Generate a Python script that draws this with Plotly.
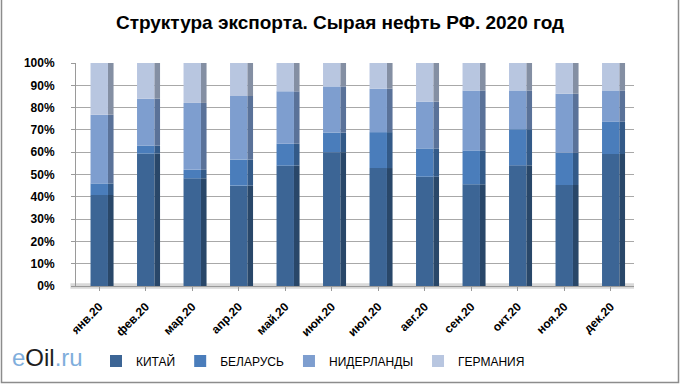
import plotly.graph_objects as go

months = ["янв.20", "фев.20", "мар.20", "апр.20", "май.20", "июн.20",
          "июл.20", "авг.20", "сен.20", "окт.20", "ноя.20", "дек.20"]
# shares of crude oil exports (fractions)
china = [0.408, 0.594, 0.483, 0.450, 0.540, 0.600, 0.529, 0.490, 0.456, 0.541, 0.453, 0.592]
belarus = [0.052, 0.036, 0.038, 0.117, 0.098, 0.088, 0.161, 0.127, 0.152, 0.162, 0.144, 0.146]
netherlands = [0.308, 0.210, 0.300, 0.285, 0.235, 0.207, 0.195, 0.210, 0.269, 0.174, 0.265, 0.139]
germany = [round(1 - a - b - c, 3) for a, b, c in zip(china, belarus, netherlands)]

series = [
    ("КИТАЙ", china, "#3C6595", "#294769"),
    ("БЕЛАРУСЬ", belarus, "#4A7DBB", "#335A88"),
    ("НИДЕРЛАНДЫ", netherlands, "#7E9ECF", "#5A7299"),
    ("ГЕРМАНИЯ", germany, "#B8C6E0", "#848FA3"),
]

fig = go.Figure()
base = [0.0] * len(months)
for name, vals, front, side in series:
    fig.add_trace(go.Bar(
        x=months, y=vals, base=list(base), name=name,
        marker=dict(color=front, line=dict(width=0)),
        width=0.375, offset=-0.1875, legendgroup=name,
    ))
    fig.add_trace(go.Bar(
        x=months, y=vals, base=list(base), name=name, showlegend=False,
        marker=dict(color=side, line=dict(width=0)),
        width=0.12, offset=0.1875, legendgroup=name, hoverinfo="skip",
    ))
    base = [b + v for b, v in zip(base, vals)]

L, R, T, B = 76, 46, 63, 98
W, H = 680, 384
pw, ph = W - L - R, H - T - B

fig.update_layout(
    width=W, height=H,
    margin=dict(l=L, r=R, t=T, b=B, autoexpand=False),
    paper_bgcolor="white", plot_bgcolor="white",
    barmode="overlay",
    font=dict(family="Liberation Sans, Arial, sans-serif", color="black"),
    title=dict(text="<b>Структура экспорта. Сырая нефть РФ. 2020 год</b>",
               x=0.5, xref="container", xanchor="center",
               y=1 - 22 / H, yref="container", yanchor="middle",
               font=dict(size=19, color="black")),
    xaxis=dict(tickangle=-45, tickfont=dict(size=12, weight="bold"),
               showgrid=False, showline=True, linecolor="#9A9A9A",
               ticks="outside", ticklen=4, tickcolor="#9A9A9A",
               ticklabelstandoff=4, range=[-0.5, 11.5]),
    yaxis=dict(range=[0, 1], dtick=0.1, tickformat=".0%",
               tickfont=dict(size=12, weight="bold"),
               showgrid=True, gridcolor="#A8A8A8", gridwidth=1,
               showline=True, linecolor="#9A9A9A", ticks="outside",
               ticklen=4, tickcolor="#9A9A9A", ticklabelstandoff=14,
               zeroline=False),
    legend=dict(orientation="h", xref="container", yref="container",
                x=96 / W, y=1 - 361 / H, xanchor="left", yanchor="middle",
                font=dict(size=12), itemwidth=30,
                traceorder="normal"),
    showlegend=True,
)

# floor band under the bars
fig.add_shape(type="rect", xref="paper", yref="paper",
              x0=-0.01, x1=1.0, y0=-0.012, y1=0.012,
              fillcolor="#D9D9D9", line=dict(width=0), layer="below")

# outer border of the chart area
fig.add_shape(type="rect", xref="paper", yref="paper",
              x0=(1.5 - L) / pw, x1=(W - 1.5 - L) / pw,
              y0=-(H - 1.5 - T - ph) / ph, y1=(H - 1.5 - T) / ph,
              line=dict(color="#8C8C8C", width=1.5), fillcolor="rgba(0,0,0,0)")

# logo
fig.add_annotation(xref="paper", yref="paper",
                   x=(10 - L) / pw, y=-(357 - T - ph) / ph,
                   xanchor="left", yanchor="middle", showarrow=False,
                   text="<span style='color:#7FAEDC'>e</span><span style='color:#1E1E1E'>Oil</span><span style='color:#7FAEDC'>.ru</span>",
                   font=dict(size=24, family="Liberation Sans Narrow, Liberation Sans, Arial"))

fig.write_html("out.html", config={"displayModeBar": False},
               post_script="document.body.style.margin='0';")
